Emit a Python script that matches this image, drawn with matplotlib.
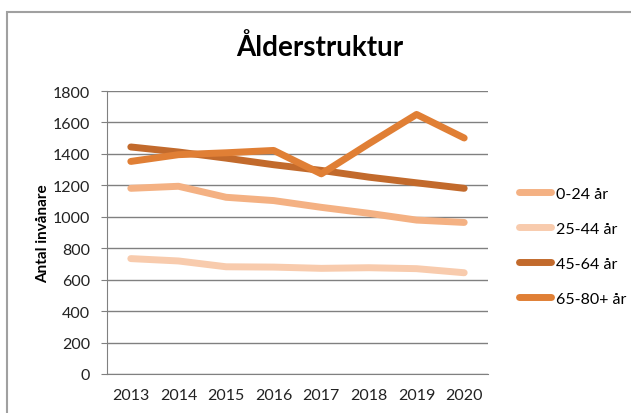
import matplotlib
matplotlib.use("Agg")
import matplotlib.pyplot as plt
from matplotlib.patches import Rectangle

years = ["2013", "2014", "2015", "2016", "2017", "2018", "2019", "2020"]
series_names = ["0-24 år", "25-44 år", "45-64 år", "65-80+ år"]
v_0_24 = [1181, 1194, 1124, 1103, 1060, 1022, 979, 964]
v_25_44 = [734, 719, 682, 680, 672, 676, 670, 644]
v_45_64 = [1444, 1412, 1373, 1331, 1295, 1252, 1216, 1181]
v_65_80 = [1352, 1395, 1407, 1422, 1273, 1465, 1651, 1501]
colors = ["#F4B183", "#F8CBAD", "#C26A2C", "#E07F35"]
yticks = [0, 200, 400, 600, 800, 1000, 1200, 1400, 1600, 1800]

plt.rcParams['font.family'] = ['Lato', 'DejaVu Sans']

W, H = 631, 414
fig = plt.figure(figsize=(W / 100, H / 100), dpi=100)

# outer chart border
fig.patches.append(Rectangle((7 / W, -0.1), 1.1, (H - 13) / H + 0.1,
                             transform=fig.transFigure, fill=False,
                             edgecolor="#A0A0A0", linewidth=1.5))

ax = fig.add_axes([107 / W, 1 - 375 / H, (488 - 107) / W, (375 - 92) / H])
x = list(range(len(years)))
for vals, name, c in zip([v_0_24, v_25_44, v_45_64, v_65_80], series_names, colors):
    ax.plot(x, vals, color=c, linewidth=5, label=name, solid_capstyle="round",
            solid_joinstyle="round")

ax.set_xlim(-0.5, len(years) - 0.5)
ax.set_ylim(0, 1800)
ax.set_yticks(yticks)
ax.set_yticklabels([str(t) for t in yticks], fontsize=11.5, color="#222222")
ax.set_xticks(x)
ax.set_xticklabels(years, fontsize=11.5, color="#222222")
ax.grid(axis="y", color="#808080", linewidth=1)
ax.set_axisbelow(True)
for s in ["top", "right"]:
    ax.spines[s].set_visible(False)
for s in ["left", "bottom"]:
    ax.spines[s].set_color("#808080")
ax.tick_params(axis="y", length=4, color="#808080", pad=8)
ax.tick_params(axis="x", length=0, pad=10)

ax.set_ylabel("Antal invånare", fontsize=11, fontweight="bold", labelpad=2)

fig.text(320 / W, 1 - 48 / H, "Ålderstruktur", ha="center", va="center",
         fontsize=20, fontweight="bold")

leg = ax.legend(loc="center left", bbox_to_anchor=(505 / W, 1 - 247 / H),
                bbox_transform=fig.transFigure, frameon=False, fontsize=11.5,
                handlelength=2.0, labelspacing=1.3, handletextpad=0.3)

fig.savefig("out.png", dpi=100)
